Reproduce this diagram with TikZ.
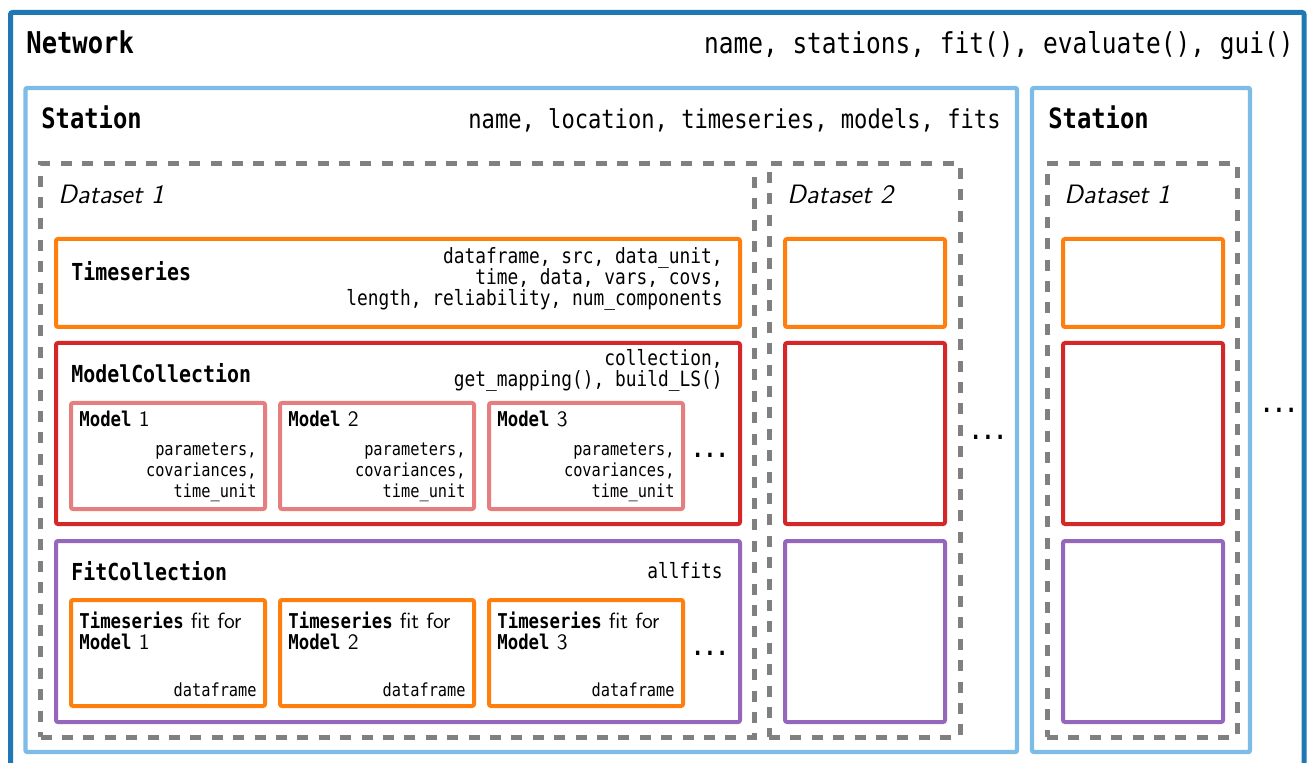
\documentclass[tikz,border=0pt]{standalone}
\usepackage{fontspec}
\setmonofont[FakeStretch=0.85]{DejaVu Sans Mono}
\usetikzlibrary{fit}
\definecolor{NetBlue}{HTML}{1F77B4}
\definecolor{StaBlue}{HTML}{7EBCE8}
\definecolor{SetGray}{HTML}{808080}
\definecolor{TsOrange}{HTML}{FF7F0E}
\definecolor{ModRed}{HTML}{D62728}
\definecolor{ModPink}{HTML}{E67D7E}
\definecolor{FitPurple}{HTML}{9467BD}
\newcommand\clsname[1]{{\fontsize{10.2}{10.5}\selectfont\ttfamily\bfseries #1}}
\tikzset{
  plainbox/.style={rectangle, inner sep=0pt, rounded corners=1pt},
  netbox/.style={plainbox, draw=NetBlue, line width=2.5pt},
  stabox/.style={plainbox, draw=StaBlue, line width=2.2pt},
  setbox/.style={plainbox, draw=SetGray, line width=2.5pt, rounded corners=0pt,
                 dash pattern=on 5.5pt off 5.2pt},
  tsbox/.style={plainbox, draw=TsOrange, line width=2pt},
  mcbox/.style={plainbox, draw=ModRed, line width=2pt},
  modbox/.style={plainbox, draw=ModPink, line width=2pt},
  fcbox/.style={plainbox, draw=FitPurple, line width=2pt},
  nettitle/.style={inner sep=0pt, font=\fontsize{15}{18}\selectfont\ttfamily\bfseries},
  netattr/.style={inner sep=0pt, font=\fontsize{14.4}{18}\selectfont\ttfamily},
  statitle/.style={inner sep=0pt, font=\fontsize{14}{17}\selectfont\ttfamily\bfseries},
  staattr/.style={inner sep=0pt, font=\fontsize{13}{16}\selectfont\ttfamily},
  setname/.style={inner sep=0pt, font=\fontsize{13.3}{16}\selectfont\sffamily\itshape},
  objtitle/.style={inner sep=0pt, font=\fontsize{11.7}{14}\selectfont\ttfamily\bfseries},
  objattr/.style={inner sep=0pt, align=right, font=\fontsize{10.5}{10.5}\selectfont\ttfamily},
  subtitle/.style={inner sep=0pt, align=left, font=\fontsize{11}{10.5}\selectfont\sffamily},
  subattr/.style={inner sep=0pt, align=right, font=\fontsize{9}{10.5}\selectfont\ttfamily},
  dots/.style={inner sep=0pt, font=\fontsize{12}{12}\selectfont\ttfamily\bfseries},
}

\begin{document}
\begin{tikzpicture}[x=0.5pt, y=-0.5pt]
  \useasboundingbox (0,0) rectangle (1309,763);
  \clip (0,0) rectangle (1309,763);
  \fill[white] (0,0) rectangle (1309,763);

  % network and its stations
  \node[netbox, fit={(10.5,12.5) (1304,790)}] (net) {};
  \node[stabox, fit={(25.5,88) (1017,752)}] (sta1) {};
  \node[stabox, fit={(1032,88) (1250,752)}] (sta2) {};

  \node[nettitle, anchor=base west] (netname) at (26,54) {Network};
  \node[netattr, anchor=base east] (netattr) at (1294,54) {name, stations, fit(), evaluate(), gui()};
  \node[statitle, anchor=base west] (sta1name) at (41,129) {Station};
  \node[staattr, anchor=base east] (sta1attr) at (1001,129) {name, location, timeseries, models, fits};
  \node[statitle, anchor=base west] (sta2name) at (1048,129) {Station};

  % datasets
  \node[setbox, fit={(40.5,164) (754,737)}] (set1) {};
  \node[setbox, fit={(769,164) (960,737)}] (set2) {};
  \node[setbox, fit={(1047,164) (1237,737)}] (set3) {};
  \node[setname, anchor=base west] (set1name) at (58,204) {Dataset 1};
  \node[setname, anchor=base west] (set2name) at (787,204) {Dataset 2};
  \node[setname, anchor=base west] (set3name) at (1064,204) {Dataset 1};

  % timeseries
  \node[tsbox, fit={(56,239) (740,327)}] (ts) {};
  \node[objtitle, anchor=west] (tsname) at (71,271) {Timeseries};
  \node[objattr, anchor=east] (tsattr) at (723,279)
    {dataframe, src, data\_unit,\\time, data, vars, covs,\\length, reliability, num\_components};

  % model collection
  \node[mcbox, fit={(56,343) (740,524)}] (mc) {};
  \node[objtitle, anchor=west] (mcname) at (71,373) {ModelCollection};
  \node[objattr, anchor=east] (mcattr) at (723,370) {collection,\\get\_mapping(), build\_LS()};

  \node[modbox, fit={(71,403) (265,509)}] (mod1) {};
  \node[modbox, fit={(280,403) (474,509)}] (mod2) {};
  \node[modbox, fit={(489,403) (683,509)}] (mod3) {};
  \node[subtitle, anchor=west] (mod1name) at (79,419) {\clsname{Model} 1};
  \node[subtitle, anchor=west] (mod2name) at (288,419) {\clsname{Model} 2};
  \node[subtitle, anchor=west] (mod3name) at (497,419) {\clsname{Model} 3};
  \node[subattr, anchor=east] (mod1attr) at (257,472) {parameters,\\covariances,\\time\_unit};
  \node[subattr, anchor=east] (mod2attr) at (466,472) {parameters,\\covariances,\\time\_unit};
  \node[subattr, anchor=east] (mod3attr) at (675,472) {parameters,\\covariances,\\time\_unit};
  \node[dots] (moddots) at (710,455) {...};

  % fit collection
  \node[fcbox, fit={(56,541) (740,722)}] (fc) {};
  \node[objtitle, anchor=west] (fcname) at (71,571) {FitCollection};
  \node[objattr, anchor=east] (fcattr) at (723,571) {allfits};

  \node[tsbox, fit={(71,600) (265,706)}] (fit1) {};
  \node[tsbox, fit={(280,600) (474,706)}] (fit2) {};
  \node[tsbox, fit={(489,600) (683,706)}] (fit3) {};
  \node[subtitle, anchor=west] (fit1name) at (79,631) {\clsname{Timeseries} fit for\\\clsname{Model} 1};
  \node[subtitle, anchor=west] (fit2name) at (288,631) {\clsname{Timeseries} fit for\\\clsname{Model} 2};
  \node[subtitle, anchor=west] (fit3name) at (497,631) {\clsname{Timeseries} fit for\\\clsname{Model} 3};
  \node[subattr, anchor=east] (fit1attr) at (257,690) {dataframe};
  \node[subattr, anchor=east] (fit2attr) at (466,690) {dataframe};
  \node[subattr, anchor=east] (fit3attr) at (675,690) {dataframe};
  \node[dots] (fitdots) at (710,653) {...};

  % the other datasets, contents left empty
  \node[tsbox, fit={(785,239) (945,327)}] (ts2) {};
  \node[mcbox, fit={(785,343) (945,524)}] (mc2) {};
  \node[fcbox, fit={(785,541) (945,722)}] (fc2) {};
  \node[tsbox, fit={(1063,239) (1223,327)}] (ts3) {};
  \node[mcbox, fit={(1063,343) (1223,524)}] (mc3) {};
  \node[fcbox, fit={(1063,541) (1223,722)}] (fc3) {};

  \node[dots] (setdots) at (988,437) {...};
  \node[dots] (stadots) at (1279,410) {...};

\end{tikzpicture}
\end{document}
